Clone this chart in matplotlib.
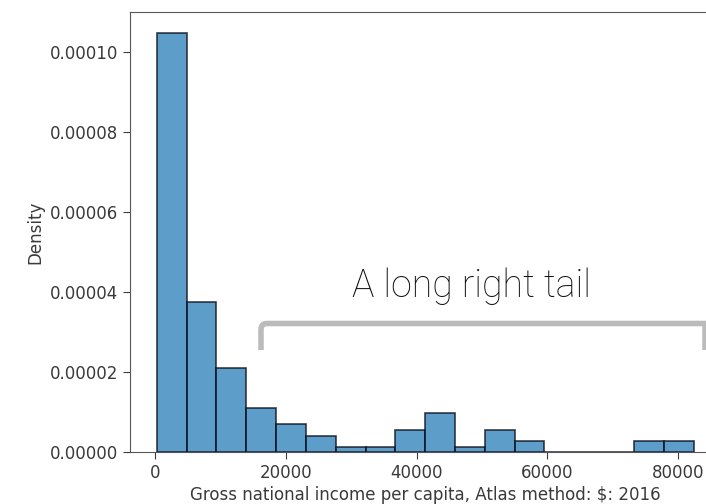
import numpy as np
import matplotlib
matplotlib.use("Agg")
import matplotlib.pyplot as plt
from matplotlib.path import Path
from matplotlib.patches import PathPatch

# ---- data ----
bin_low = 280
bin_high = 82330
n_bins = 18
density = [1.048e-4, 3.77e-5, 2.10e-5, 1.12e-5, 7.0e-6, 4.0e-6, 1.3e-6, 1.3e-6,
           5.6e-6, 9.8e-6, 1.4e-6, 5.6e-6, 2.85e-6, 0.0, 0.0, 0.0, 2.85e-6, 2.85e-6]
xticks = [0, 20000, 40000, 60000, 80000]
yticks = [0.0, 0.00002, 0.00004, 0.00006, 0.00008, 0.00010]
xlabel = "Gross national income per capita, Atlas method: $: 2016"
ylabel = "Density"
note = "A long right tail"

W, H = 706, 504
fig = plt.figure(figsize=(W / 100, H / 100), dpi=100)
ax = fig.add_axes([130 / W, 1 - 452.3 / H, (720.4 - 130) / W, (452.3 - 12.3) / H])

edges = np.linspace(bin_low, bin_high, n_bins + 1)
centers = (edges[:-1] + edges[1:]) / 2
ax.hist(centers, bins=edges, weights=density, facecolor=(0.122, 0.467, 0.706, 0.72),
        edgecolor=(0.05, 0.05, 0.1, 0.8), linewidth=1.2)

ax.set_xticks(xticks)
ax.set_yticks(yticks)
ax.set_yticklabels([f"{v:.5f}" for v in yticks])
ax.tick_params(labelsize=12, colors="#3a3a3a", length=5)
for s in ax.spines.values():
    s.set_color("#555555")
ax.set_xlabel(xlabel, fontsize=12, color="#3a3a3a", labelpad=3)
ax.set_ylabel(ylabel, fontsize=12, color="#3a3a3a")

# annotation overlay (in figure pixels)
def fx(x):
    return x / W
def fy(y):
    return 1 - y / H

gray = "#BBBBBB"
r = 6
verts = [(fx(261), fy(350)), (fx(261), fy(323.5 + r)), (fx(261), fy(323.5)), (fx(261 + r), fy(323.5)),
         (fx(705), fy(323.5)), (fx(705), fy(350))]
codes = [Path.MOVETO, Path.LINETO, Path.CURVE3, Path.CURVE3, Path.LINETO, Path.LINETO]
fig.patches.append(PathPatch(Path(verts, codes), transform=fig.transFigure, fill=False,
                             edgecolor=gray, linewidth=4, capstyle="butt", joinstyle="miter"))
fig.text(fx(472), fy(286), note, ha="center", va="center", fontsize=27,
         family="Roboto", fontweight="light", color="#111111")

fig.savefig("out.png", dpi=100)
